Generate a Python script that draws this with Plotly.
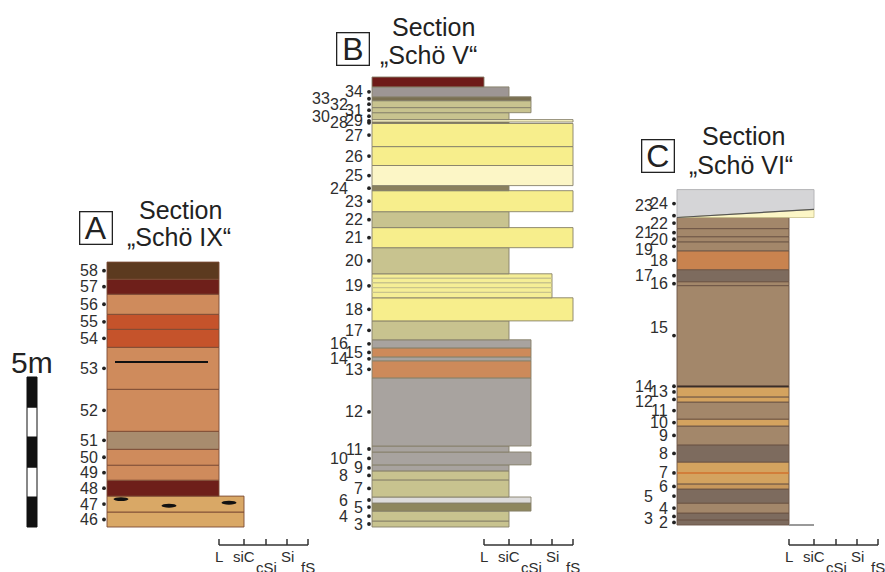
import plotly.graph_objects as go

W, H = 885, 572
PX_PER_M = 30.0
FONT = "Liberation Sans, Arial, sans-serif"

# grain-size scale of the columns (x in column pixels from the column's left edge)
GRAIN_CLASSES = ["L", "siC", "cSi", "Si", "fS"]
GRAIN_X = [112, 137, 159, 180, 201]
GRAIN_LABEL_ROW = [0, 0, 1, 0, 1]

# ---------------- Section A  "Schö IX"  (beds listed bottom -> top, thickness in m)
A_beds = ["46", "47", "48", "49", "50", "51", "52", "53", "54", "55", "56", "57", "58"]
A_thick = [0.50, 0.53, 0.53, 0.50, 0.53, 0.60, 1.40, 1.40, 0.60, 0.50, 0.67, 0.50, 0.57]
A_grain = ["siC", "siC", "L", "L", "L", "L", "L", "L", "L", "L", "L", "L", "L"]
A_color = ["#d9a866", "#d9a866", "#6e1f1a", "#cf8b5c", "#cf8b5c", "#a88c6e", "#cf8b5c",
           "#cf8b5c", "#c5532b", "#c5532b", "#cf8b5c", "#6e1f1a", "#5c3a1f"]
A_line53_m = 5.5          # black horizon inside bed 53
A_line53_x = [8, 101]
A_lens_x = [14, 62, 122]  # lenses in bed 47
A_lens_m = [0.93, 0.71, 0.81]

# ---------------- Section B  "Schö V"
B_beds = ["3", "4", "5", "6", "7", "8", "9", "10", "11", "12", "13", "14", "15", "16", "17",
          "18", "19", "20", "21", "22", "23", "24", "25", "26", "27", "28", "29", "30", "31",
          "32", "33", "34", ""]
B_thick = [0.20, 0.33, 0.27, 0.20, 0.57, 0.30, 0.20, 0.43, 0.20, 2.27, 0.57, 0.13, 0.30, 0.27,
           0.63, 0.77, 0.80, 0.87, 0.67, 0.53, 0.70, 0.17, 0.67, 0.63, 0.77, 0.05, 0.08, 0.23,
           0.17, 0.23, 0.13, 0.33, 0.33]
B_grain = ["siC", "siC", "cSi", "cSi", "siC", "siC", "siC", "cSi", "siC", "cSi", "cSi", "cSi",
           "cSi", "cSi", "siC", "fS", "Si", "siC", "fS", "siC", "fS", "siC", "fS", "fS", "fS",
           "siC", "fS", "siC", "cSi", "cSi", "cSi", "siC", "L"]
B_color = ["#c8c38f", "#c8c38f", "#8e875e", "#dddcdc", "#c8c38f", "#c8c38f", "#a8a39f",
           "#a8a39f", "#a8a39f", "#a8a39f", "#cd8a5a", "#a8a39f", "#cd8a5a", "#a8a39f",
           "#c8c38f", "#f7ee8c", "#f5ee96", "#c8c38f", "#f7ee8c", "#c8c38f", "#f7ee8c",
           "#8a805e", "#fcf6c6", "#f7ee8c", "#f7ee8c", "#7a7052", "#fbf6c4", "#c8c38f",
           "#c8c38f", "#c8c38f", "#7a7052", "#9d9694", "#6e1a18"]
B_stripes19_m = [7.82, 7.98, 8.14, 8.29]

# ---------------- Section C  "Schö VI"
C_beds = ["2", "3", "4", "5", "6", "7", "8", "9", "10", "11", "12", "13", "14", "15", "16",
          "17", "18", "19", "20", "21", "22"]
C_thick = [0.17, 0.23, 0.33, 0.47, 0.17, 0.73, 0.57, 0.63, 0.23, 0.57, 0.17, 0.33, 0.05, 3.33,
           0.13, 0.40, 0.63, 0.30, 0.17, 0.27, 0.37]
C_grain = ["L"] * 21
C_color = ["#7d6b5e", "#7d6b5e", "#a3876a", "#7d6b5e", "#c8985c", "#d4a35f", "#7d6b5e",
           "#a3876a", "#d4a35f", "#a3876a", "#d4a35f", "#d4a35f", "#111111", "#a3876a",
           "#a3876a", "#7d6b5e", "#c9834f", "#a3876a", "#a3876a", "#a3876a", "#a3876a"]
C_line7_m = 1.73
C_wedge23 = dict(bed="23", grain="siC", thick_right=0.27, color="#fcf6c6")
C_cap24 = dict(bed="24", grain="siC", thick_left=0.93, color="#d5d5d7")

# label staggering (0 = next to column, 1/2 = shifted left) and small vertical nudges (m)
B_shift = {"33": 2, "32": 1, "30": 2, "28": 1, "24": 1, "16": 1, "14": 1, "10": 1, "8": 1,
           "6": 1, "4": 1}
C_shift = {"23": 1, "21": 1, "19": 1, "17": 1, "14": 1, "12": 1, "5": 1, "3": 1}
C_nudge = {"23": 0.35, "19": -0.1, "15": 0.27, "12": -0.08, "3": -0.08}
LABEL_X = {0: -7, 1: -22, 2: -40}
DOT_X = -3

SECTIONS = [
    dict(letter="A", name="„Schö IX“", beds=A_beds, thick=A_thick, grain=A_grain, color=A_color,
         shift={}, nudge={}, ax="x", ay="y", left=107, base=527, span=(0, 330),
         outline="#7b4a33", box=(96, 228), t1=(180, 210), t2=(179, 237)),
    dict(letter="B", name="„Schö V“", beds=B_beds, thick=B_thick, grain=B_grain, color=B_color,
         shift=B_shift, nudge={}, ax="x2", ay="y2", left=372, base=527, span=(330, 620),
         outline="#86806a", box=(353, 49), t1=(433, 27), t2=(428, 55)),
    dict(letter="C", name="„Schö VI“", beds=C_beds, thick=C_thick, grain=C_grain, color=C_color,
         shift=C_shift, nudge=C_nudge, ax="x3", ay="y3", left=677, base=525, span=(620, 885),
         outline="#6b5444", box=(658, 156), t1=(743, 136), t2=(741, 165)),
]


def gx(g):
    return GRAIN_X[GRAIN_CLASSES.index(g)]


def px2paper(x, y):
    return x / W, 1 - y / H


fig = go.Figure()
annotations = []
shapes = []
layout_axes = {}

for s in SECTIONS:
    ax, ay = s["ax"], s["ay"]
    xa = "xaxis" + ax[1:]
    ya = "yaxis" + ay[1:]
    layout_axes[xa] = dict(domain=[s["span"][0] / W, s["span"][1] / W],
                           range=[s["span"][0] - s["left"], s["span"][1] - s["left"]],
                           visible=False, fixedrange=True, anchor=ay)
    layout_axes[ya] = dict(domain=[0, 1],
                           range=[(s["base"] - H) / PX_PER_M, s["base"] / PX_PER_M],
                           visible=False, fixedrange=True, anchor=ax)
    bottoms, mids = [], []
    z = 0.0
    for t in s["thick"]:
        bottoms.append(z)
        mids.append(z + t / 2)
        z += t
    s["top"] = z
    fig.add_trace(go.Bar(
        orientation="h", y=mids, x=[gx(g) for g in s["grain"]], width=s["thick"], base=0,
        marker=dict(color=s["color"], line=dict(color=s["outline"], width=0.9)),
        xaxis=ax, yaxis=ay, hoverinfo="skip", showlegend=False))

    label_items = [(b, m) for b, m in zip(s["beds"], mids) if b]
    if s["letter"] == "C":
        b0 = s["top"]
        label_items.append((C_wedge23["bed"], b0 + 0.06))
        label_items.append((C_cap24["bed"], b0 + C_cap24["thick_left"] / 2))
    fig.add_trace(go.Scatter(
        x=[DOT_X] * len(label_items), y=[m for _, m in label_items], mode="markers",
        marker=dict(size=3.8, color="#222"), xaxis=ax, yaxis=ay,
        hoverinfo="skip", showlegend=False))
    for b, m in label_items:
        annotations.append(dict(
            x=LABEL_X[s["shift"].get(b, 0)], y=m + s["nudge"].get(b, 0), xref=ax, yref=ay,
            text=b, showarrow=False, xanchor="right", yanchor="middle",
            font=dict(family=FONT, size=16, color="#2e2e2e")))

    # grain-size scale bracket
    sx = ax
    x0 = GRAIN_X[0]
    x1 = GRAIN_X[-1]
    yb = 1 - 545 / H
    yt = 1 - 539 / H
    shapes.append(dict(type="line", xref=sx, yref="paper", x0=x0, x1=x1, y0=yb, y1=yb,
                       line=dict(color="#333", width=1.5)))
    for gxv, g, row in zip(GRAIN_X, GRAIN_CLASSES, GRAIN_LABEL_ROW):
        shapes.append(dict(type="line", xref=sx, yref="paper", x0=gxv, x1=gxv, y0=yb, y1=yt,
                           line=dict(color="#333", width=1.5)))
        annotations.append(dict(
            x=gxv, y=1 - (556 if row == 0 else 567) / H, xref=sx, yref="paper", text=g,
            showarrow=False, xanchor="center", yanchor="middle",
            font=dict(family=FONT, size=15, color="#2e2e2e")))

    # titles
    bx, by = px2paper(*s["box"])
    annotations.append(dict(x=bx, y=by, xref="paper", yref="paper", text=s["letter"],
                            showarrow=False, xanchor="center", yanchor="middle",
                            width=31, height=31, borderpad=0, borderwidth=1.3,
                            bordercolor="#222", font=dict(family=FONT, size=32, color="#222")))
    t1x, t1y = px2paper(*s["t1"])
    annotations.append(dict(x=t1x, y=t1y, xref="paper", yref="paper", text="Section",
                            showarrow=False, xanchor="center", yanchor="middle",
                            font=dict(family=FONT, size=25, color="#222")))
    t2x, t2y = px2paper(*s["t2"])
    annotations.append(dict(x=t2x, y=t2y, xref="paper", yref="paper", text=s["name"],
                            showarrow=False, xanchor="center", yanchor="middle",
                            font=dict(family=FONT, size=25, color="#222")))

# ---- extra features, section A
fig.add_trace(go.Scatter(x=A_line53_x, y=[A_line53_m] * 2, mode="lines",
                         line=dict(color="#111", width=2.2), xaxis="x", yaxis="y",
                         hoverinfo="skip", showlegend=False))
for lx, lm in zip(A_lens_x, A_lens_m):
    shapes.append(dict(type="circle", xref="x", yref="y", x0=lx - 7.5, x1=lx + 7.5,
                       y0=lm - 0.065, y1=lm + 0.065, fillcolor="#111", line=dict(width=0)))

# scale bar 5 m (A axes)
SCALE_M = [0.5, 1.5, 2.5, 3.5, 4.5]
SCALE_COL = ["#111", "#fff", "#111", "#fff", "#111"]
fig.add_trace(go.Bar(orientation="h", y=SCALE_M, x=[10] * 5, width=[1] * 5, base=-80,
                     marker=dict(color=SCALE_COL, line=dict(color="#111", width=1)),
                     xaxis="x", yaxis="y", hoverinfo="skip", showlegend=False))
annotations.append(dict(x=32 / W, y=1 - 362 / H, xref="paper", yref="paper", text="5m",
                        showarrow=False, xanchor="center", yanchor="middle",
                        font=dict(family=FONT, size=30, color="#222")))

# ---- section B stripes in bed 19
sxs, sys_ = [], []
for m in B_stripes19_m:
    sxs += [0, gx("Si"), None]
    sys_ += [m, m, None]
fig.add_trace(go.Scatter(x=sxs, y=sys_, mode="lines", line=dict(color="#c9c48c", width=1.4),
                         xaxis="x2", yaxis="y2", hoverinfo="skip", showlegend=False))

# ---- section C extras
cTop = SECTIONS[2]["top"]
wx = gx(C_wedge23["grain"])
fig.add_trace(go.Scatter(
    x=[0, wx, wx, 0, 0],
    y=[cTop, cTop + C_wedge23["thick_right"], cTop + C_cap24["thick_left"],
       cTop + C_cap24["thick_left"], cTop],
    mode="lines", fill="toself", fillcolor=C_cap24["color"],
    line=dict(color="#b5b5b8", width=1), xaxis="x3", yaxis="y3",
    hoverinfo="skip", showlegend=False))
fig.add_trace(go.Scatter(
    x=[0, wx, wx, 0], y=[cTop, cTop, cTop + C_wedge23["thick_right"], cTop],
    mode="lines", fill="toself", fillcolor=C_wedge23["color"],
    line=dict(color="#c8c08a", width=0.8), xaxis="x3", yaxis="y3",
    hoverinfo="skip", showlegend=False))
fig.add_trace(go.Scatter(x=[0, wx], y=[cTop, cTop + C_wedge23["thick_right"]], mode="lines",
                         line=dict(color="#555", width=1.2), xaxis="x3", yaxis="y3",
                         hoverinfo="skip", showlegend=False))
fig.add_trace(go.Scatter(x=[0, gx("L")], y=[C_line7_m] * 2, mode="lines",
                         line=dict(color="#d2722e", width=1.5), xaxis="x3", yaxis="y3",
                         hoverinfo="skip", showlegend=False))
fig.add_trace(go.Scatter(x=[gx("L"), gx("siC")], y=[0, 0], mode="lines",
                         line=dict(color="#999", width=2), xaxis="x3", yaxis="y3",
                         hoverinfo="skip", showlegend=False))

fig.update_layout(
    width=W, height=H, autosize=False, margin=dict(l=0, r=0, t=0, b=0, pad=0),
    paper_bgcolor="white", plot_bgcolor="rgba(0,0,0,0)", barmode="overlay",
    showlegend=False, annotations=annotations, shapes=shapes, **layout_axes)

fig.write_html(
    "out.html",
    config={"displayModeBar": False},
    post_script="document.body.style.margin='0';document.body.style.padding='0';"
                "document.body.style.overflow='hidden';")
